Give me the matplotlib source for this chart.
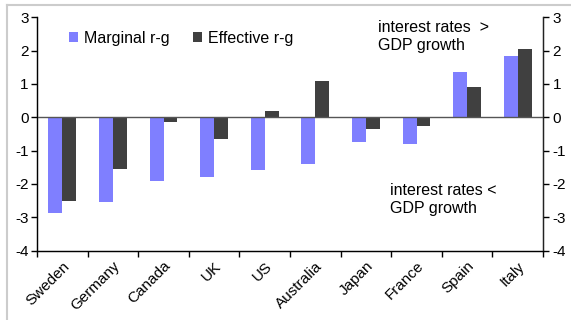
import matplotlib
matplotlib.use("Agg")
import matplotlib.pyplot as plt
import numpy as np
from matplotlib.lines import Line2D

plt.rcParams['font.family'] = ['Liberation Sans', 'DejaVu Sans']

countries = ["Sweden", "Germany", "Canada", "UK", "US", "Australia",
             "Japan", "France", "Spain", "Italy"]
marginal = [-2.86, -2.53, -1.90, -1.78, -1.59, -1.40, -0.73, -0.80, 1.36, 1.85]
effective = [-2.51, -1.55, -0.15, -0.66, 0.19, 1.09, -0.36, -0.25, 0.90, 2.06]
yticks = [3, 2, 1, 0, -1, -2, -3, -4]

W, H = 571, 320
fig = plt.figure(figsize=(W / 100, H / 100), dpi=100)

# plot area in pixel coordinates
left, right, top, bottom = 37, 543, 17.3, 250.5
ax = fig.add_axes([left / W, 1 - bottom / H, (right - left) / W, (bottom - top) / H])

x = np.arange(len(countries))
bw = 0.276
ax.bar(x - bw / 2, marginal, bw, color="#7f7fff", label="Marginal r-g", zorder=2)
ax.bar(x + bw / 2, effective, bw, color="#404040", label="Effective r-g", zorder=2)

ax.set_xlim(-0.5, len(countries) - 0.5)
ax.set_ylim(-4, 3)
ax.axhline(0, color="#555555", lw=1.0, zorder=3)

ax.set_yticks(yticks)
ax.set_yticklabels([str(v) for v in yticks])
ax.set_xticks(np.arange(len(countries) + 1) - 0.5)
ax.set_xticklabels([])
ax.set_xticks(x, minor=True)
ax.set_xticklabels(countries, minor=True, rotation=45, ha="right",
                   rotation_mode="anchor", fontsize=11)
ax.tick_params(axis="x", which="minor", length=0, pad=6)
ax.tick_params(axis="x", which="major", length=4, width=1, direction="out")
ax.tick_params(axis="y", length=4, width=1, direction="out", labelsize=11, pad=2)

ax.spines["top"].set_visible(False)
for s in ["left", "right", "bottom"]:
    ax.spines[s].set_color("#222222")
    ax.spines[s].set_linewidth(1)

ax2 = ax.twinx()
ax2.set_ylim(-4, 3)
ax2.set_yticks(yticks)
ax2.set_yticklabels([str(v) for v in yticks])
ax2.tick_params(axis="y", length=4, width=1, direction="out", labelsize=11, pad=3)
ax2.spines["top"].set_visible(False)
ax2.spines["right"].set_color("#222222")

ax.legend(loc="upper left", bbox_to_anchor=(0.05, 0.97), ncol=2, frameon=False,
          fontsize=11.5, handlelength=0.6, handleheight=0.6, handletextpad=0.35,
          columnspacing=1.45, borderaxespad=0)

ax.text(0.673, 0.99, "interest rates  >\nGDP growth", transform=ax.transAxes,
        fontsize=11.5, va="top", ha="left", linespacing=1.25)
ax.text(0.697, 0.29, "interest rates <\nGDP growth", transform=ax.transAxes,
        fontsize=11.5, va="top", ha="left", linespacing=1.25)

# light frame lines along the top and left edges
fig.add_artist(Line2D([7 / W, 1], [1 - 5 / H, 1 - 5 / H], color="#cccccc", lw=1.5,
                      transform=fig.transFigure))
fig.add_artist(Line2D([7 / W, 7 / W], [0, 1 - 5 / H], color="#cccccc", lw=1.5,
                      transform=fig.transFigure))

fig.savefig("out.png", dpi=100)
